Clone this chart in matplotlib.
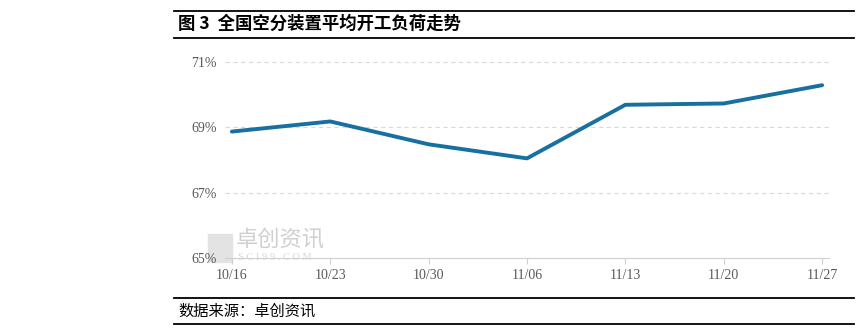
import matplotlib.pyplot as plt
from matplotlib.lines import Line2D

plt.rcParams['font.family'] = ['Noto Sans CJK SC', 'DejaVu Sans']

# weekly data
dates = ['10/16', '10/23', '10/30', '11/06', '11/13', '11/20', '11/27']
load = [68.87, 69.18, 68.48, 68.05, 69.69, 69.73, 70.29]
yticks = [65, 67, 69, 71]

fig = plt.figure(figsize=(8.64, 3.34), dpi=100)
W, H = 864, 334

# plot area in pixels: x 225..829, y 62..258
ax = fig.add_axes([225 / W, 1 - 258 / H, (829 - 225) / W, (258 - 62) / H])
ax.patch.set_alpha(0)
x = list(range(len(dates)))
ax.plot(x, load, color='#17709F', lw=2.8, solid_capstyle='round', zorder=3)
ax.set_xlim(-0.07, 6.07)
ax.set_ylim(65, 71)
ax.set_yticks(yticks)
ax.set_yticklabels([f'{v}%' for v in yticks], family=['Liberation Serif'],
                   fontsize=10, color='#595959')
ax.set_xticks(x)
ax.set_xticklabels(dates, family=['Liberation Serif'], fontsize=10, color='#595959')
for v in yticks[1:]:
    ax.axhline(v, color='#D9D9D9', lw=0.8, ls=(0, (4, 3)), zorder=1)
for s in ['top', 'right', 'left']:
    ax.spines[s].set_visible(False)
ax.spines['bottom'].set_color('#D0D0D0')
ax.tick_params(axis='y', length=0, pad=6)
ax.tick_params(axis='x', length=4, color='#D0D0D0', pad=4)

# watermark (behind everything)
fig.text(236 / W, 1 - 240 / H, '卓创资讯', fontsize=16, color='#D0D0D0',
         ha='left', va='center', zorder=-1)
fig.text(238 / W, 1 - 257 / H, 'S C I 9 9 . C O M', fontsize=7.5, color='#D8D8D8',
         family=['Liberation Serif'], ha='left', va='center', zorder=-1)
fig.patches.append(plt.Rectangle((208 / W, 1 - 262 / H), 24 / W, 28 / H,
                                 transform=fig.transFigure, color='#E3E3E3', zorder=-1))

# frame lines and texts
for yy in [10.7, 37.7, 298.3, 324]:
    fig.add_artist(Line2D([174 / W, 854 / W], [1 - yy / H, 1 - yy / H],
                          color='black', lw=1.3))
fig.text(178 / W, 1 - 24 / H, '图 3  全国空分装置平均开工负荷走势', fontsize=12.5,
         fontweight='bold', ha='left', va='center')
fig.text(178 / W, 1 - 311 / H, '数据来源：卓创资讯', fontsize=11,
         ha='left', va='center')

fig.savefig('out.png', dpi=100)
